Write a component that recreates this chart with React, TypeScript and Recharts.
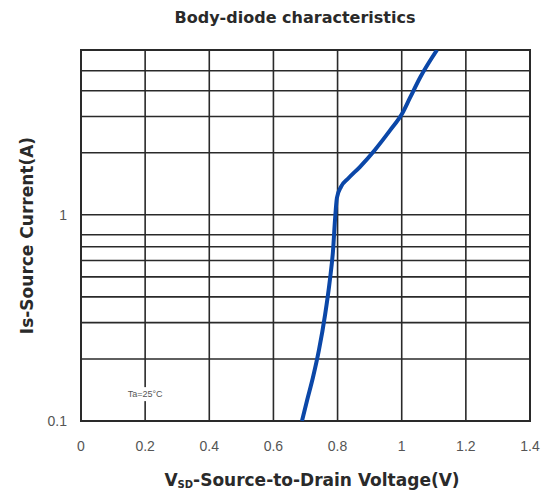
import {
  LineChart,
  Line,
  XAxis,
  YAxis,
  CartesianGrid,
  ReferenceArea,
  ReferenceDot,
} from "recharts";

// Body-diode forward curve
const vsd = [0.689, 0.705, 0.723, 0.742, 0.761, 0.776, 0.786, 0.792, 0.798, 0.811, 0.833, 0.87, 0.917, 0.963, 1.001, 1.026, 1.057, 1.11];
const isCurrent = [0.1, 0.126, 0.162, 0.221, 0.327, 0.483, 0.676, 0.946, 1.21, 1.37, 1.5, 1.71, 2.07, 2.56, 3.09, 3.7, 4.62, 6.3];

const xTicks = [0, 0.2, 0.4, 0.6, 0.8, 1, 1.2, 1.4];
const yTicks = [0.1, 0.2, 0.3, 0.4, 0.5, 0.6, 0.7, 0.8, 0.9, 1, 2, 3, 4, 5];
const yLabels = [0.1, 1];

const data = vsd.map((v, i) => ({ v, i: isCurrent[i] }));

const FONT = "'Liberation Sans', Arial, sans-serif";
const BOLD = "'DejaVu Sans', 'Liberation Sans', sans-serif";

export default function App() {
  return (
    <div style={{ position: "absolute", left: 0, top: 0, width: 550, height: 497, background: "#fff" }}>
      <div
        style={{
          position: "absolute",
          top: 8,
          left: 0,
          width: 590,
          textAlign: "center",
          fontFamily: BOLD,
          fontWeight: "bold",
          fontSize: 16,
          color: "#2a2a2a",
        }}
      >
        Body-diode characteristics
      </div>
      <LineChart
        width={550}
        height={497}
        data={data}
        margin={{ top: 50, right: 20, bottom: 46, left: 21 }}
      >
        <CartesianGrid stroke="#2a2a2a" strokeWidth={1.6} ticks={yTicks} />
        <XAxis
          dataKey="v"
          type="number"
          domain={[0, 1.4]}
          ticks={xTicks}
          tickLine={false}
          axisLine={false}
          tickMargin={14}
          tick={{ fontSize: 14, fill: "#555", fontFamily: FONT }}
          label={{
            content: () => (
              <text x={312} y={486} textAnchor="middle" fontFamily={BOLD} fontWeight="bold" fontSize={17} fill="#2a2a2a">
                <tspan>V</tspan>
                <tspan fontSize={10} dy={2}>SD</tspan>
                <tspan dy={-2}>-Source-to-Drain Voltage(V)</tspan>
              </text>
            ),
          }}
        />
        <YAxis
          dataKey="i"
          type="number"
          scale="log"
          domain={[0.1, 6.3]}
          ticks={yTicks}
          allowDataOverflow
          width={60}
          tickLine={false}
          axisLine={false}
          tickMargin={8}
          tickFormatter={(t: number) => (yLabels.includes(t) ? String(t) : "")}
          tick={{ fontSize: 14, fill: "#555", fontFamily: FONT }}
          label={{
            value: "Is-Source Current(A)",
            angle: -90,
            position: "insideLeft",
            offset: 6,
            style: { fontFamily: BOLD, fontWeight: "bold", fontSize: 17, fill: "#2a2a2a", textAnchor: "middle" },
          }}
        />
        <ReferenceArea x1={0} x2={1.4} y1={0.1} y2={6.3} fill="none" stroke="#2a2a2a" strokeWidth={2} ifOverflow="visible" />
        <ReferenceDot
          x={0.2}
          y={0.135}
          r={0}
          ifOverflow="visible"
          label={{
            content: (props: any) => {
              const { viewBox } = props;
              const cx = viewBox.x + (viewBox.width || 0) / 2;
              const cy = viewBox.y + (viewBox.height || 0) / 2;
              return (
                <g>
                  <rect x={cx - 22} y={cy - 7} width={44} height={14} fill="#fff" />
                  <text x={cx} y={cy + 3} textAnchor="middle" fontFamily={FONT} fontSize={9} fill="#555">
                    Ta=25°C
                  </text>
                </g>
              );
            },
          }}
        />
        <Line
          dataKey="i"
          type="monotone"
          stroke="#0b47a8"
          strokeWidth={4}
          dot={false}
          isAnimationActive={false}
        />
      </LineChart>
    </div>
  );
}
